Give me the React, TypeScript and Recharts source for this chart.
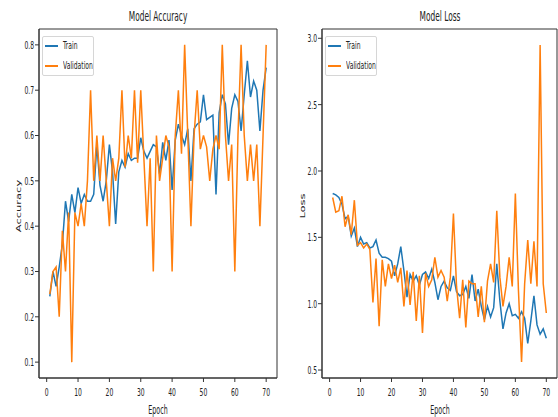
import React from 'react';
import { LineChart, Line, XAxis, YAxis, ReferenceArea } from 'recharts';

const epochs = Array.from({ length: 70 }, (_, i) => i + 1);

const accTrain = [
  0.245, 0.30, 0.267, 0.31, 0.36, 0.455, 0.41, 0.47, 0.43, 0.485,
  0.45, 0.47, 0.455, 0.455, 0.47, 0.58, 0.49, 0.455, 0.50, 0.58,
  0.52, 0.405, 0.52, 0.545, 0.53, 0.56, 0.545, 0.55, 0.55, 0.595,
  0.565, 0.55, 0.565, 0.58, 0.575, 0.515, 0.585, 0.545, 0.59, 0.48,
  0.59, 0.625, 0.60, 0.58, 0.615, 0.50, 0.615, 0.625, 0.63, 0.69,
  0.635, 0.64, 0.645, 0.47, 0.65, 0.69, 0.67, 0.58, 0.66, 0.69,
  0.675, 0.61, 0.69, 0.765, 0.685, 0.72, 0.70, 0.61, 0.70, 0.75,
];

const accVal = [
  0.25, 0.30, 0.31, 0.20, 0.39, 0.30, 0.43, 0.10, 0.43, 0.40,
  0.45, 0.40, 0.50, 0.70, 0.50, 0.60, 0.50, 0.60, 0.50, 0.40,
  0.55, 0.50, 0.55, 0.70, 0.53, 0.60, 0.55, 0.70, 0.54, 0.70,
  0.55, 0.40, 0.55, 0.30, 0.60, 0.50, 0.55, 0.60, 0.575, 0.30,
  0.60, 0.70, 0.56, 0.80, 0.60, 0.40, 0.60, 0.70, 0.57, 0.60,
  0.575, 0.50, 0.57, 0.60, 0.57, 0.80, 0.60, 0.50, 0.58, 0.30,
  0.60, 0.80, 0.60, 0.50, 0.58, 0.50, 0.58, 0.40, 0.60, 0.80,
];

const lossTrain = [
  1.83, 1.82, 1.80, 1.75, 1.64, 1.66, 1.51, 1.57, 1.43, 1.50,
  1.45, 1.46, 1.42, 1.43, 1.48, 1.38, 1.35, 1.35, 1.34, 1.32,
  1.21, 1.30, 1.43, 1.25, 1.05, 1.22, 1.17, 1.21, 1.14, 1.22,
  1.24, 1.19, 1.26, 1.16, 1.03, 1.13, 1.17, 1.12, 1.10, 1.21,
  1.09, 1.06, 1.07, 1.13, 1.04, 1.22, 1.02, 1.11, 0.98, 0.88,
  0.98, 0.90, 0.97, 1.30, 1.02, 0.81, 0.93, 1.00, 0.91, 0.92,
  0.89, 0.94, 0.89, 0.70, 0.87, 1.06, 0.84, 0.77, 0.81, 0.74,
];

const lossVal = [
  1.80, 1.69, 1.70, 1.81, 1.58, 1.67, 1.52, 1.78, 1.44, 1.46,
  1.42, 1.45, 1.41, 1.01, 1.34, 0.83, 1.33, 1.13, 1.30, 1.19,
  1.29, 1.16, 1.27, 0.98, 1.25, 0.99, 1.24, 0.87, 1.21, 0.78,
  1.23, 1.13, 1.18, 1.35, 1.20, 1.25, 1.20, 1.02, 1.20, 1.68,
  1.13, 0.89, 1.18, 0.82, 1.17, 1.15, 1.15, 0.90, 1.13, 0.86,
  1.17, 1.30, 1.16, 1.70, 1.20, 0.98, 1.13, 1.35, 1.13, 1.83,
  1.10, 0.56, 1.15, 1.48, 1.15, 1.47, 1.13, 2.95, 1.15, 0.93,
];

const xTicks = [0, 10, 20, 30, 40, 50, 60, 70];
const accTicks = [0.1, 0.2, 0.3, 0.4, 0.5, 0.6, 0.7, 0.8];
const lossTicks = [0.5, 1.0, 1.5, 2.0, 2.5, 3.0];
const seriesNames = ['Train', 'Validation'];

const accData = epochs.map((e, i) => ({ epoch: e, train: accTrain[i], val: accVal[i] }));
const lossData = epochs.map((e, i) => ({ epoch: e, train: lossTrain[i], val: lossVal[i] }));

const FONT = "'DejaVu Sans', sans-serif";
const SX = 0.55;
const TXT = '#222';
const BLUE = '#1f77b4';
const ORANGE = '#ff7f0e';
const XDOM: [number, number] = [-2.45, 73.45];

const XTick = (props: any) => {
  const { x, y, payload } = props;
  return (
    <text
      transform={`translate(${x},${y}) scale(${SX},1)`}
      textAnchor="middle"
      dy="0.71em"
      fill={TXT}
      fontSize={11}
      fontFamily={FONT}
    >
      {payload.value}
    </text>
  );
};

const YTick = (props: any) => {
  const { x, y, payload } = props;
  return (
    <text
      transform={`translate(${x},${y}) scale(${SX},1)`}
      textAnchor="end"
      dy="0.36em"
      fill={TXT}
      fontSize={11}
      fontFamily={FONT}
    >
      {Number(payload.value).toFixed(1)}
    </text>
  );
};

const CText = ({ x, y, size, text, rotate }: { x: number; y: number; size: number; text: string; rotate?: boolean }) => (
  <div
    style={{
      position: 'absolute',
      left: x,
      top: y,
      whiteSpace: 'nowrap',
      fontFamily: FONT,
      fontSize: size,
      lineHeight: 1,
      color: TXT,
      transformOrigin: '0 0',
      transform: `scale(${SX},1) ${rotate ? 'rotate(-90deg)' : ''} translate(-50%,-50%)`,
    }}
  >
    {text}
  </div>
);

const LegendBox = ({ left, top }: { left: number; top: number }) => (
  <div
    style={{
      position: 'absolute',
      left,
      top,
      width: 52,
      height: 40,
      border: '1px solid #d6d6d6',
      borderRadius: 2,
      background: 'rgba(255,255,255,0.85)',
      boxSizing: 'border-box',
    }}
  >
    {seriesNames.map((name, i) => (
      <div key={name} style={{ position: 'absolute', left: 2, top: 9 + i * 20, height: 0 }}>
        <span
          style={{
            position: 'absolute',
            left: 0,
            top: -1,
            width: 13,
            height: 2,
            background: i === 0 ? BLUE : ORANGE,
          }}
        />
        <span
          style={{
            position: 'absolute',
            left: 18,
            top: -6,
            whiteSpace: 'nowrap',
            fontFamily: FONT,
            fontSize: 11,
            lineHeight: '12px',
            color: TXT,
            transformOrigin: '0 50%',
            transform: `scale(${SX},1)`,
          }}
        >
          {name}
        </span>
      </div>
    ))}
  </div>
);

type PanelProps = {
  data: { epoch: number; train: number; val: number }[];
  title: string;
  yLabel: string;
  yLabelX: number;
  yDomain: [number, number];
  yTicks: number[];
  width: number;
  yAxisWidth: number;
  marginRight: number;
  left: number;
};

const Panel = ({ data, title, yLabel, yLabelX, yDomain, yTicks, width, yAxisWidth, marginRight, left }: PanelProps) => {
  const plotLeft = yAxisWidth;
  const plotRight = width - marginRight;
  const cx = (plotLeft + plotRight) / 2;
  return (
    <div style={{ position: 'absolute', left, top: 0, width, height: 417 }}>
      <LineChart
        width={width}
        height={417}
        data={data}
        margin={{ top: 29, right: marginRight, bottom: 0, left: 0 }}
      >
        <XAxis
          dataKey="epoch"
          type="number"
          domain={XDOM}
          ticks={xTicks}
          allowDataOverflow
          tickSize={4}
          tickMargin={6}
          height={39}
          stroke="#333"
          tick={<XTick />}
        />
        <YAxis
          type="number"
          domain={yDomain}
          ticks={yTicks}
          allowDataOverflow
          width={yAxisWidth}
          tickSize={4}
          tickMargin={1}
          stroke="#333"
          tick={<YTick />}
        />
        <ReferenceArea
          x1={XDOM[0]}
          x2={XDOM[1]}
          y1={yDomain[0]}
          y2={yDomain[1]}
          fill="none"
          stroke="#333"
          strokeWidth={1}
          ifOverflow="visible"
        />
        <Line type="linear" dataKey="train" stroke={BLUE} strokeWidth={1.5} dot={false} isAnimationActive={false} />
        <Line type="linear" dataKey="val" stroke={ORANGE} strokeWidth={1.5} dot={false} isAnimationActive={false} />
      </LineChart>
      <CText x={cx} y={17} size={13.5} text={title} />
      <CText x={cx} y={411} size={11.5} text="Epoch" />
      <CText x={yLabelX} y={206} size={11.5} text={yLabel} rotate />
      <LegendBox left={plotLeft + 3} top={36} />
    </div>
  );
};

export default function App() {
  return (
    <div style={{ position: 'absolute', left: 0, top: 0, width: 558, height: 417, background: '#fff', overflow: 'hidden' }}>
      <Panel
        data={accData}
        title="Model Accuracy"
        yLabel="Accuracy"
        yLabelX={18.5}
        yDomain={[0.065, 0.835]}
        yTicks={accTicks}
        width={280}
        yAxisWidth={39}
        marginRight={3}
        left={0}
      />
      <Panel
        data={lossData}
        title="Model Loss"
        yLabel="Loss"
        yLabelX={23}
        yDomain={[0.44, 3.07]}
        yTicks={lossTicks}
        width={278}
        yAxisWidth={42}
        marginRight={1}
        left={280}
      />
    </div>
  );
}
